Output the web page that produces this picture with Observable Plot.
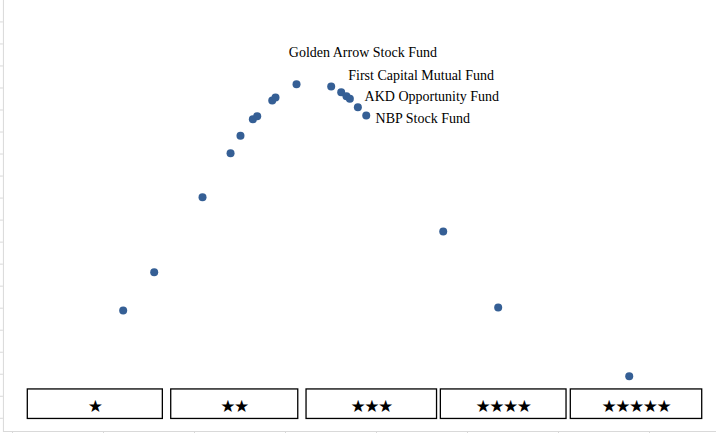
<!DOCTYPE html>
<html><head><meta charset="utf-8">
<script src="https://cdn.jsdelivr.net/npm/d3@7"></script>
<script src="https://cdn.jsdelivr.net/npm/@observablehq/plot@0.6"></script>
<style>html,body{margin:0;padding:0;background:#fff;} svg{display:block}</style>
</head><body><div id="chart"></div>
<script>
// Fund returns (%) and their normal-curve density
const returns = [-17.84, -14.43, -9.12, -6.04, -4.95, -3.59, -3.11, -1.46, -1.10, 1.21, 5.02, 6.12, 6.70, 7.07, 7.95, 8.87, 17.33, 23.37, 37.77];
const density = [0.00550, 0.00723, 0.01064, 0.01264, 0.01343, 0.01418, 0.01432, 0.01503, 0.01517, 0.01577, 0.01567, 0.01541, 0.01523, 0.01511, 0.01473, 0.01435, 0.00908, 0.00563, 0.00251];

// Star-rating bands along the return axis
const bandNames = ["★", "★★", "★★★", "★★★★", "★★★★★"];
const bandLow = [-28.32, -12.56, 2.31, 17.07, 31.35];
const bandHigh = [-13.48, 1.40, 16.65, 30.88, 45.79];

// Named funds (index into the points)
const labelNames = ["Golden Arrow Stock Fund", "First Capital Mutual Fund", "AKD Opportunity Fund", "NBP Stock Fund"];
const labelPoint = [10, 11, 13, 15];

// Axis ticks
const xTicks = [-30, -20, -10, 0, 10, 20, 30, 40];
const yTicks = [0.0006, 0.0016, 0.0026, 0.0036, 0.0046, 0.0056, 0.0066, 0.0076, 0.0086, 0.0096, 0.0106, 0.0116, 0.0126, 0.0136, 0.0146, 0.0156, 0.0166, 0.0176, 0.0186];

const points = returns.map((r, i) => ({ret: r, dens: density[i]}));
const bands = bandNames.map((n, i) => ({name: n, lo: bandLow[i], hi: bandHigh[i], mid: (bandLow[i] + bandHigh[i]) / 2}));

// label offsets (styling, in pixels)
const labelOffsets = [[-42.4, -34.2], [7, -16.6], [14.7, -2.2], [9.3, 3.4]];

const xMin = -31.32, xMax = 47.36, yMin = -0.0000908, yMax = 0.019573;
const axisX = -31;
const boxTop = 0.00191, boxBottom = 0.00057, starY = 0.00113;

const labelMarks = labelNames.map((name, i) => Plot.text([points[labelPoint[i]]], {
  x: "ret", y: "dens", text: () => name,
  dx: labelOffsets[i][0], dy: labelOffsets[i][1],
  textAnchor: "start", fontSize: 14, fontFamily: "Liberation Serif, Times New Roman, serif", fill: "#000"
}));

const chart = Plot.plot({
  width: 716, height: 433,
  margin: 0,
  style: {background: "#fff", overflow: "visible"},
  x: {domain: [xMin, xMax], axis: null},
  y: {domain: [yMin, yMax], axis: null},
  marks: [
    Plot.ruleX([axisX], {y1: 0, y2: yMax, stroke: "#d9d9d9", strokeWidth: 1}),
    Plot.ruleY(yTicks, {x1: xMin, x2: axisX, stroke: "#d9d9d9", strokeWidth: 1}),
    Plot.ruleY([0], {x1: axisX, x2: xMax, stroke: "#d9d9d9", strokeWidth: 1}),
    Plot.ruleX(xTicks, {y1: 0, y2: yMin, stroke: "#d9d9d9", strokeWidth: 1}),
    Plot.rect(bands, {x1: "lo", x2: "hi", y1: boxBottom, y2: boxTop, fill: "#fff", stroke: "#000", strokeWidth: 1.3}),
    Plot.text(bands, {x: "mid", y: starY, text: "name", fontSize: 17, fontFamily: "DejaVu Sans", fill: "#000", dx: -0.75}),
    Plot.dot(points, {x: "ret", y: "dens", r: 4, fill: "#355f95", stroke: null}),
    ...labelMarks
  ]
});
chart.querySelectorAll("text").forEach(t => { if (/★/.test(t.textContent)) t.setAttribute("letter-spacing", "-1.5"); });
document.getElementById("chart").append(chart);
</script>
</body></html>
